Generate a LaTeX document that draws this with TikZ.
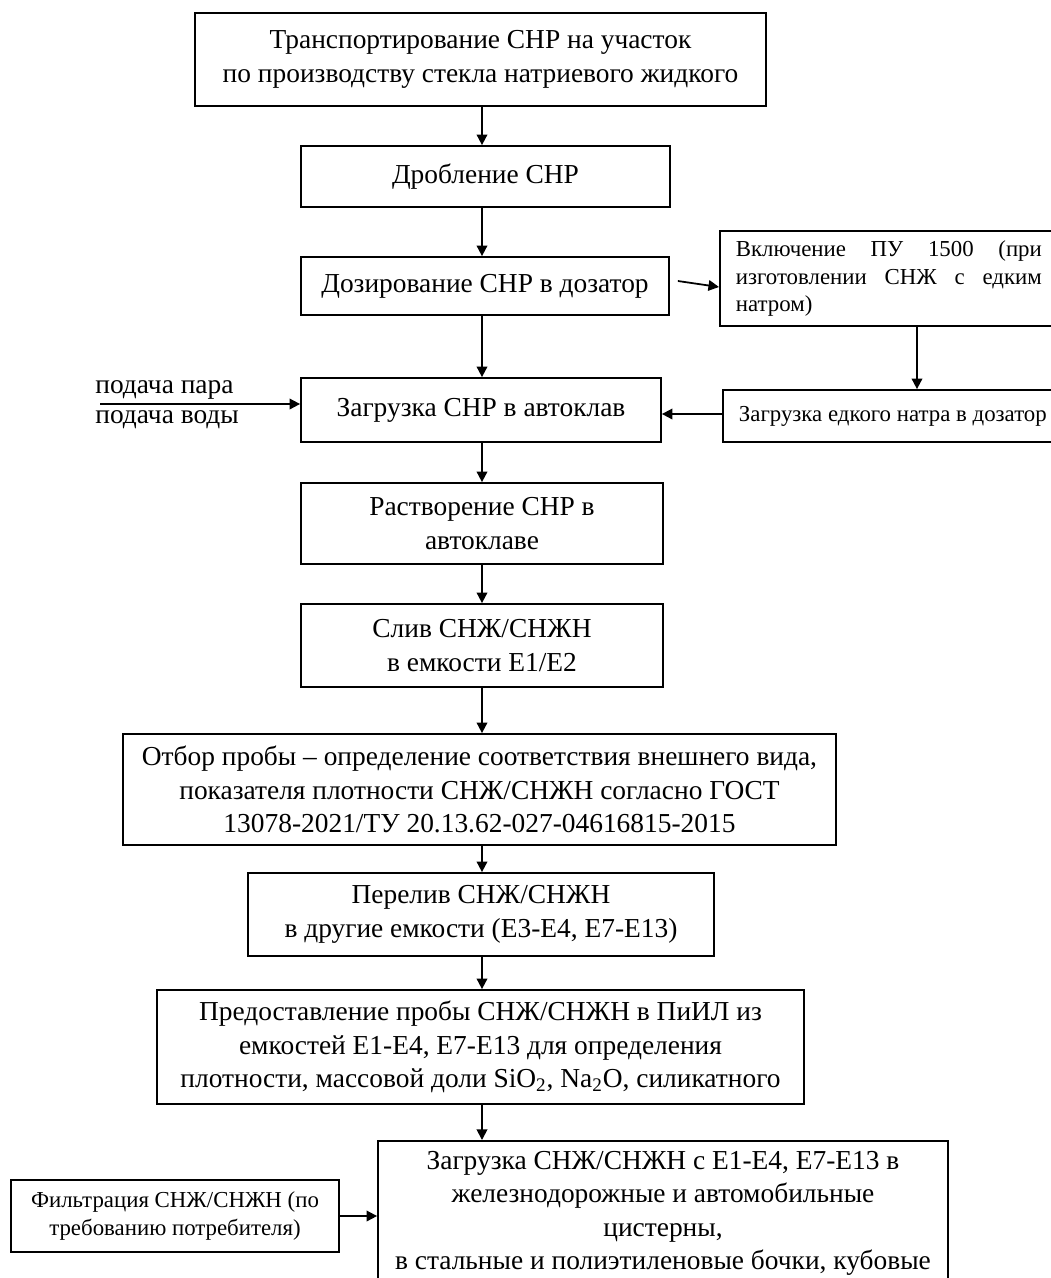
\documentclass[tikz,border=0pt]{standalone}
\usepackage{fontspec}
\setmainfont{Liberation Serif}
\usetikzlibrary{arrows.meta}

\tikzset{
  box/.style={draw, line width=1pt, align=center, inner sep=2pt, font=\fontsize{15.6}{19}\selectfont},
  smallbox/.style={draw, line width=1pt, inner sep=2pt, font=\fontsize{13}{15.9}\selectfont},
  arr/.style={line width=1pt, -{Triangle[length=6pt,width=6pt]}}
}

\begin{document}
\begin{tikzpicture}
\useasboundingbox (0.000,0.000) rectangle (21.020,-25.560);
\coordinate (col) at (9.640,0.000);
\coordinate (dropx) at (18.340,0.000);
\coordinate (feed) at (2.000,-8.080);

\node[box, minimum width=11.420cm, minimum height=1.860cm] (trans) at (9.610,-1.190)
  {Транспортирование СНР на участок\\по производству стекла натриевого жидкого};
\node[box, minimum width=7.380cm, minimum height=1.220cm] (drob) at (9.710,-3.530)
  {Дробление СНР};
\node[box, minimum width=7.360cm, minimum height=1.160cm] (doz) at (9.700,-5.720)
  {Дозирование СНР в дозатор};
\node[smallbox, anchor=west, text width=6.120cm, inner xsep=0.320cm, minimum height=1.900cm, align=left] (vkl) at (14.380,-5.570)
  {Включение\hfill ПУ\hfill 1500\hfill (при\\изготовлении\hfill СНЖ\hfill с\hfill едким\\натром)};
\node[box, minimum width=7.200cm, minimum height=1.280cm] (zagr) at (9.620,-8.200)
  {Загрузка СНР в автоклав};
\node[smallbox, anchor=west, minimum width=6.800cm, minimum height=1.040cm] (edk) at (14.440,-8.320)
  {Загрузка едкого натра в дозатор};
\node[anchor=base west, inner sep=0pt, font=\fontsize{15.6}{19}\selectfont] (steam) at (1.900,-7.860) {подача пара};
\node[anchor=base west, inner sep=0pt, font=\fontsize{15.6}{19}\selectfont] (water) at (1.900,-8.460) {подача воды};
\node[box, minimum width=7.240cm, minimum height=1.620cm] (rast) at (9.640,-10.470)
  {Растворение СНР в\\автоклаве};
\node[box, minimum width=7.240cm, minimum height=1.660cm] (sliv) at (9.640,-12.910)
  {Слив СНЖ/СНЖН\\в емкости Е1/Е2};
\node[box, minimum width=14.260cm, minimum height=2.220cm] (otbor) at (9.590,-15.790)
  {Отбор пробы – определение соответствия внешнего вида,\\показателя плотности СНЖ/СНЖН согласно ГОСТ\\13078-2021/ТУ 20.13.62-027-04616815-2015};
\node[box, minimum width=9.320cm, minimum height=1.660cm] (perel) at (9.620,-18.290)
  {Перелив СНЖ/СНЖН\\в другие емкости (Е3-Е4, Е7-Е13)};
\node[box, minimum width=12.940cm, minimum height=2.280cm] (pred) at (9.610,-20.940)
  {Предоставление пробы СНЖ/СНЖН в ПиИЛ из\\емкостей Е1-Е4, Е7-Е13 для определения\\плотности, массовой доли SiO\textsubscript{2}, Na\textsubscript{2}O, силикатного};
\node[box, anchor=north, minimum width=11.400cm, inner ysep=6pt] (last) at (13.260,-22.800)
  {Загрузка СНЖ/СНЖН с Е1-Е4, Е7-Е13 в\\железнодорожные и автомобильные\\цистерны,\\в стальные и полиэтиленовые бочки, кубовые\\\rule{0pt}{1cm}};
\node[smallbox, align=center, minimum width=6.560cm, minimum height=1.440cm] (filt) at (3.500,-24.320)
  {Фильтрация СНЖ/СНЖН (по\\требованию потребителя)};

\draw[arr] (trans.south -| col) -- (col |- drob.north);
\draw[arr] (drob.south -| col) -- (col |- doz.north);
\draw[arr] (doz.south -| col) -- (col |- zagr.north);
\draw[arr] ([shift={(0.16,0.10)}]doz.east) -- ([yshift=-0.17cm]vkl.west);
\draw[arr] (vkl.south -| dropx) -- (dropx |- edk.north);
\draw[arr] ([yshift=0.04cm]edk.west) -- ([yshift=0.04cm]edk.west -| zagr.east);
\draw[arr] (feed) -- (feed -| zagr.west);
\draw[arr] (zagr.south -| col) -- (col |- rast.north);
\draw[arr] (rast.south -| col) -- (col |- sliv.north);
\draw[arr] (sliv.south -| col) -- (col |- otbor.north);
\draw[arr] (otbor.south -| col) -- (col |- perel.north);
\draw[arr] (perel.south -| col) -- (col |- pred.north);
\draw[arr] (pred.south -| col) -- (col |- last.north);
\draw[arr] (filt.east) -- (filt.east -| last.west);
\end{tikzpicture}
\end{document}
